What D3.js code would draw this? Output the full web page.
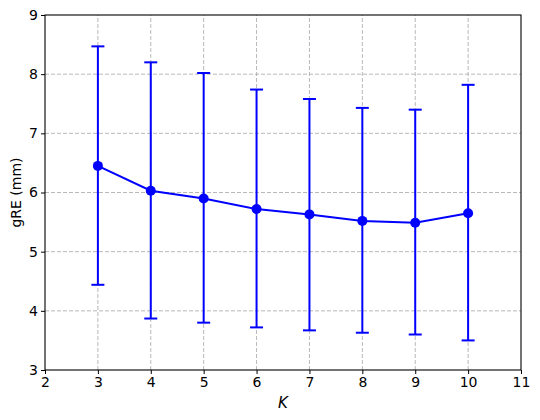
<!DOCTYPE html>
<html>
<head>
<meta charset="utf-8">
<script src="https://cdn.jsdelivr.net/npm/d3@7"></script>
<style>
body { margin: 0; background: #fff; }
svg { display: block; font-family: "DejaVu Sans", sans-serif; }
</style>
</head>
<body>
<div id="chart"></div>
<script>
// Data
var kValues = [3, 4, 5, 6, 7, 8, 9, 10];
var meanGRE = [6.45, 6.03, 5.90, 5.72, 5.63, 5.52, 5.49, 5.65];
var upperGRE = [8.47, 8.20, 8.02, 7.74, 7.58, 7.43, 7.40, 7.82];
var lowerGRE = [4.44, 3.87, 3.80, 3.72, 3.67, 3.63, 3.60, 3.50];
var xTicks = [2, 3, 4, 5, 6, 7, 8, 9, 10, 11];
var yTicks = [3, 4, 5, 6, 7, 8, 9];

var width = 540, height = 420;
var margin = {left: 45, right: 19, top: 15, bottom: 50};

var svg = d3.select("#chart").append("svg")
	.attr("width", width)
	.attr("height", height);

var x = d3.scaleLinear().domain([2, 11]).range([margin.left, width - margin.right]);
var y = d3.scaleLinear().domain([3, 9]).range([height - margin.bottom, margin.top]);

var points = kValues.map(function(k, i){
	return {k: k, mean: meanGRE[i], hi: upperGRE[i], lo: lowerGRE[i]};
});

// grid
var grid = svg.append("g").attr("id", "grid");
grid.selectAll("line.gx").data(xTicks.slice(1, -1)).enter().append("line")
	.attr("x1", function(d){ return x(d) }).attr("x2", function(d){ return x(d) })
	.attr("y1", y(3)).attr("y2", y(9));
grid.selectAll("line.gy").data(yTicks.slice(1, -1)).enter().append("line")
	.attr("x1", x(2)).attr("x2", x(11))
	.attr("y1", function(d){ return y(d) }).attr("y2", function(d){ return y(d) });
grid.selectAll("line")
	.attr("stroke", "#b0b0b0")
	.attr("stroke-width", 0.9)
	.attr("stroke-dasharray", "4,2");

// error bars
var bars = svg.append("g").attr("id", "errorbars")
	.attr("stroke", "#0000ff")
	.attr("stroke-width", 2);
points.forEach(function(d){
	bars.append("line")
		.attr("x1", x(d.k)).attr("x2", x(d.k))
		.attr("y1", y(d.lo)).attr("y2", y(d.hi));
	[d.lo, d.hi].forEach(function(v){
		bars.append("line")
			.attr("x1", x(d.k) - 6.5).attr("x2", x(d.k) + 6.5)
			.attr("y1", y(v)).attr("y2", y(v));
	});
});

// mean line + markers
var line = d3.line()
	.x(function(d){ return x(d.k) })
	.y(function(d){ return y(d.mean) });
svg.append("path")
	.datum(points)
	.attr("d", line)
	.attr("fill", "none")
	.attr("stroke", "#0000ff")
	.attr("stroke-width", 2);
svg.append("g").selectAll("circle").data(points).enter().append("circle")
	.attr("cx", function(d){ return x(d.k) })
	.attr("cy", function(d){ return y(d.mean) })
	.attr("r", 5)
	.attr("fill", "#0000ff");

// axes
var xAxis = svg.append("g")
	.attr("transform", "translate(0," + y(3) + ")")
	.call(d3.axisBottom(x).tickValues(xTicks).tickFormat(d3.format("d")).tickSize(4).tickPadding(3));
var yAxis = svg.append("g")
	.attr("transform", "translate(" + x(2) + ",0)")
	.call(d3.axisLeft(y).tickValues(yTicks).tickFormat(d3.format("d")).tickSize(4).tickPadding(3));
[xAxis, yAxis].forEach(function(a){
	a.select(".domain").remove();
	a.selectAll("text").attr("font-size", 14).attr("fill", "#000")
		.attr("font-family", "DejaVu Sans");
	a.selectAll(".tick line").attr("stroke", "#000").attr("stroke-width", 1);
});

// frame
svg.append("rect")
	.attr("x", x(2)).attr("y", y(9))
	.attr("width", x(11) - x(2)).attr("height", y(3) - y(9))
	.attr("fill", "none")
	.attr("stroke", "#000")
	.attr("stroke-width", 1.1);

// labels
svg.append("text")
	.attr("x", (x(2) + x(11)) / 2)
	.attr("y", 408)
	.attr("text-anchor", "middle")
	.attr("font-size", 15)
	.attr("font-style", "italic")
	.text("K");
svg.append("text")
	.attr("transform", "translate(21," + (y(3) + y(9)) / 2 + ") rotate(-90)")
	.attr("text-anchor", "middle")
	.attr("font-size", 14)
	.text("gRE (mm)");
</script>
</body>
</html>
